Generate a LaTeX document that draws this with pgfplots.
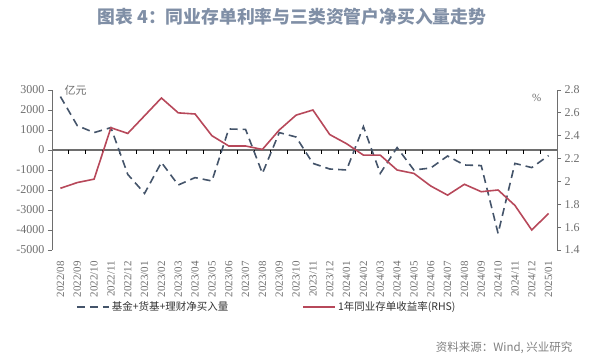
\documentclass[border=0pt]{standalone}
\usepackage{pgfplots}
\pgfplotsset{compat=1.18}
\usepackage{fontspec}
\setmainfont{Liberation Serif}
\newfontfamily\cjk{Noto Sans CJK SC}
\definecolor{dashc}{RGB}{68,84,106}
\definecolor{redc}{RGB}{183,72,90}
\definecolor{titlec}{RGB}{128,143,166}
\definecolor{axc}{RGB}{110,110,110}
\pgfplotstableread{
i flow rate
0 2670 1.94
1 1220 1.99
2 870 2.02
3 1120 2.47
4 -1220 2.42
5 -2170 2.575
6 -620 2.73
7 -1750 2.60
8 -1380 2.59
9 -1550 2.40
10 1050 2.31
11 1030 2.31
12 -1170 2.28
13 870 2.45
14 650 2.58
15 -670 2.625
16 -950 2.41
17 -1000 2.33
18 1170 2.23
19 -1170 2.23
20 120 2.10
21 -1000 2.07
22 -900 1.96
23 -300 1.88
24 -750 1.975
25 -780 1.91
26 -4170 1.925
27 -670 1.79
28 -880 1.575
29 -280 1.72
}\datatable
\begin{document}
\begin{tikzpicture}[x=1pt,y=1pt]
\path[use as bounding box] (0,0) rectangle (600,361);
\node[font=\cjk\bfseries\fontsize{17.8}{19}\selectfont, text=titlec] at (292,344) {图表 4：同业存单利率与三类资管户净买入量走势};
\node[font=\cjk\fontsize{11.5}{13}\selectfont, text=gray, anchor=east] at (576,13) {资料来源：Wind, 兴业研究};
\begin{axis}[
  at={(52pt,111pt)}, anchor=south west,
  scale only axis, width=505pt, height=160pt,
  xmin=-0.5, xmax=29.5, ymin=-5000, ymax=3000,
  axis y line*=left, axis x line*=bottom,
  x axis line style={draw=none},
  y axis line style={color=axc, line width=0.8pt},
  xtick={0,...,29},
  xticklabels={2022/08,2022/09,2022/10,2022/11,2022/12,2023/01,2023/02,2023/03,2023/04,2023/05,2023/06,2023/07,2023/08,2023/09,2023/10,2023/11,2023/12,2024/01,2024/02,2024/03,2024/04,2024/05,2024/06,2024/07,2024/08,2024/09,2024/10,2024/11,2024/12,2025/01},
  xticklabel style={rotate=90, anchor=east, font=\fontsize{11}{12}\selectfont, text=axc, inner sep=0pt},
  xticklabel shift=7pt,
  major x tick style={draw=none},
  ytick={-5000,-4000,...,3000},
  yticklabel style={font=\fontsize{12}{13}\selectfont, text=axc},
  y tick style={color=axc, line width=0.8pt},
  tick align=outside, major tick length=4pt,
  /pgf/number format/.cd, 1000 sep={}, assume math mode=true,
  /pgfplots/.cd,
  clip=false,
  legend style={at={(0.0475,-0.356)}, anchor=west, draw=none, fill=none,
    legend columns=2, font=\cjk\fontsize{10.5}{12}\selectfont, text=black!80,
    /tikz/every even column/.append style={column sep=72pt},
    inner sep=0pt},
  legend image code/.code={\draw[#1] (0pt,0pt) -- (32pt,0pt);},
]
\draw[color=axc, line width=1.6pt] (axis cs:-0.5,0) -- (axis cs:29.5,0);
\pgfplotsinvokeforeach{1,...,29}{\draw[color=black, line width=0.7pt] (axis cs:#1-0.5,0) -- ([yshift=-4.5pt]axis cs:#1-0.5,0);}
\addplot[color=dashc, line width=1.6pt, dash pattern=on 8pt off 5pt] table[x=i,y=flow] {\datatable};
\addlegendentry{基金+货基+理财净买入量}
\addlegendimage{color=redc, line width=1.6pt}
\addlegendentry{1年同业存单收益率(RHS)}
\node[font=\cjk\fontsize{11}{12}\selectfont, text=axc] at (axis cs:0.9,3000) {亿元};
\end{axis}
\begin{axis}[
  at={(52pt,111pt)}, anchor=south west,
  scale only axis, width=505pt, height=160pt,
  xmin=-0.5, xmax=29.5, ymin=1.4, ymax=2.8,
  axis y line*=right, axis x line=none,
  y axis line style={color=axc, line width=0.8pt},
  ytick={1.4,1.6,1.8,2,2.2,2.4,2.6,2.8},
  yticklabel style={font=\fontsize{12}{13}\selectfont, text=axc},
  y tick style={color=axc, line width=0.8pt},
  tick align=outside, major tick length=4pt,
  /pgf/number format/.cd, fixed, precision=1, assume math mode=true,
  /pgfplots/.cd,
  clip=false,
]
\addplot[color=redc, line width=1.6pt] table[x=i,y=rate] {\datatable};
\node[font=\fontsize{11}{12}\selectfont, text=axc] at (axis cs:28.3,2.73) {\%};
\end{axis}
\end{tikzpicture}
\end{document}
